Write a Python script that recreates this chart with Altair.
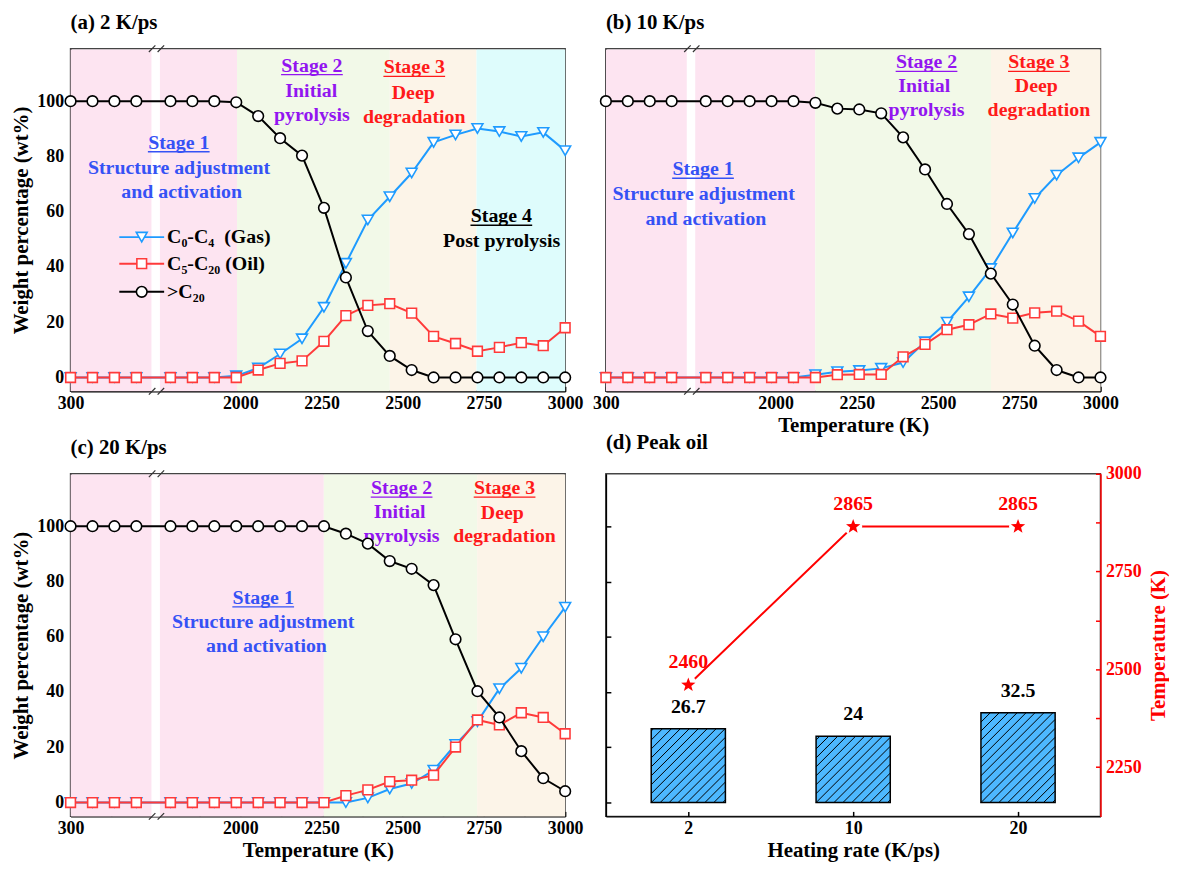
import math
import altair as alt
import pandas as pd

# ------------------------------------------------------------------ data
TEMPS = [300, 367.5, 435, 502.5,
         1785, 1852.5, 1920, 1987.5, 2055, 2122.5, 2190, 2257.5, 2325,
         2392.5, 2460, 2527.5, 2595, 2662.5, 2730, 2797.5, 2865, 2932.5, 3000]

A_GAS = [0, 0, 0, 0, 0, 0, 0, 0.6, 3.4, 8.5, 14.0, 25.4, 41.3, 57.0, 65.4, 74.0, 85.1, 87.8, 90.1, 89.0, 87.2, 88.7, 82.1]
A_OIL = [0, 0, 0, 0, 0, 0, 0, 0, 2.7, 5.1, 6.0, 13.1, 22.4, 26.1, 26.7, 23.3, 14.9, 12.3, 9.5, 10.9, 12.6, 11.5, 18.0]
A_C20 = [100, 100, 100, 100, 100, 100, 100, 99.6, 94.6, 86.6, 80.3, 61.4, 36.2, 16.8, 7.8, 2.7, 0, 0, 0, 0, 0, 0, 0]

B_GAS = [0, 0, 0, 0, 0, 0, 0, 0, 0, 1.0, 2.1, 2.5, 3.3, 5.4, 12.9, 20.0, 29.2, 39.4, 52.3, 64.8, 73.2, 79.5, 85.1]
B_OIL = [0, 0, 0, 0, 0, 0, 0, 0, 0, 0, 1.0, 1.1, 1.1, 7.5, 12.0, 17.3, 19.1, 23.0, 21.5, 23.4, 24.0, 20.4, 14.9]
B_C20 = [100, 100, 100, 100, 100, 100, 100, 100, 100, 99.4, 97.3, 97.0, 95.6, 86.9, 75.3, 62.8, 51.9, 37.6, 26.4, 11.5, 2.7, 0, 0]

C_GAS = [0, 0, 0, 0, 0, 0, 0, 0, 0, 0, 0, 0, 0, 1.7, 4.9, 6.9, 11.7, 21.0, 29.3, 41.2, 48.6, 60.0, 70.7]
C_OIL = [0, 0, 0, 0, 0, 0, 0, 0, 0, 0, 0, 0, 2.5, 4.6, 7.6, 8.1, 9.9, 20.1, 29.9, 28.1, 32.5, 30.8, 24.9]
C_C20 = [100, 100, 100, 100, 100, 100, 100, 100, 100, 100, 100, 100, 97.3, 93.7, 87.4, 84.6, 78.7, 59.1, 40.3, 30.8, 18.6, 8.8, 4.1]

RATES = ["2", "10", "20"]
PEAK_OIL = [26.7, 24, 32.5]
PEAK_T = [2460, 2865, 2865]

SERIES = ["gas", "oil", "c20"]
LEGEND_LABELS = ["C\u2080-C\u2084\u00a0\u00a0(Gas)", "C\u2085-C\u2082\u2080\u00a0(Oil)", ">C\u2082\u2080"]

X_TICKS_T = [300, 425, 1875, 2000, 2125, 2250, 2375, 2500, 2625, 2750, 2875, 3000]
Y_TICKS = [0, 10, 20, 30, 40, 50, 60, 70, 80, 90, 100, 110]
T_TICKS = [2250, 2375, 2500, 2625, 2750, 2875, 3000]

# stage boundaries (K) per panel
A_STAGES = [300, 1990, 2460, 2727, 3000]
B_STAGES = [300, 2122, 2663, 3000]
C_STAGES = [300, 2257, 2729, 3000]

# ------------------------------------------------------------------ style
FONT = "Liberation Serif"
W, H = 498, 345
Y_DOM = [-5, 119]
T_DOM = [2124, 3000]
SHIFT = 1177.5               # axis break: right segment shifted left
X_DOM = [300, 3000 - SHIFT]
GAP_U = [549, 575]

PINK, GREEN, BEIGE, CYAN = "#FDE4F1", "#F2F9E8", "#FCF4E8", "#DEFCFC"
BLUE, RED, BLACK = "#1E9BFF", "#FF3A3A", "#000000"
S1C, S2C, S3C = "#3552F5", "#9215F0", "#FF1A1A"
TRED = "#FF0000"
BAR_FILL = "#4DB8FF"

COL = {"gas": BLUE, "oil": RED, "c20": BLACK}
SHAPE = {"gas": "triangle-down", "oil": "square", "c20": "circle"}
SIZE = {"gas": 120, "oil": 95, "c20": 115}

NEG = {"expr": "-5"}


def to_u(t):
    return t if t < 1000 else t - SHIFT


xscale = alt.Scale(domain=X_DOM, nice=False, zero=False)
yscale = alt.Scale(domain=Y_DOM, nice=False, zero=False)

X_LABEL_EXPR = (
    "datum.value < 600 ? (datum.value == 300 ? '300' : '') : "
    f"((datum.value + {SHIFT}) % 250 == 0 ? format(datum.value + {SHIFT}, 'd') : '')"
)


def x_axis(title):
    if title:
        return alt.Axis(values=[to_u(t) for t in X_TICKS_T], labelExpr=X_LABEL_EXPR,
                        title=title, tickSize=NEG, labelPadding=8, titlePadding=2,
                        labelFlush=False, labelOverlap=False, grid=False)
    return alt.Axis(values=[to_u(t) for t in X_TICKS_T], labelExpr=X_LABEL_EXPR,
                    title=None, tickSize=NEG, labelPadding=8,
                    labelFlush=False, labelOverlap=False, grid=False)


def y_axis(show):
    if show:
        return alt.Axis(values=Y_TICKS, labelExpr="datum.value % 20 == 0 ? datum.label : ''",
                        title="Weight percentage (wt%)", tickSize=NEG, labelPadding=12,
                        titlePadding=5, labelFlush=False, grid=False)
    return alt.Axis(values=Y_TICKS, labels=False, title=None, tickSize=NEG, grid=False)


def X(field, axis=None):
    if axis is not None:
        return alt.X(field, type="quantitative", scale=xscale, axis=axis)
    return alt.X(field, type="quantitative", scale=xscale)


def Y(field, axis=None):
    if axis is not None:
        return alt.Y(field, type="quantitative", scale=yscale, axis=axis)
    return alt.Y(field, type="quantitative", scale=yscale)


def bg_layer(edges, colors, xtitle, ylabels):
    df = pd.DataFrame({
        "u0": [to_u(t) for t in edges[:-1]],
        "u1": [to_u(t) for t in edges[1:]],
        "c": colors,
        "lo": [Y_DOM[0]] * len(colors),
        "hi": [Y_DOM[1] - 0.3] * len(colors),
    })
    return alt.Chart(df).mark_rect().encode(
        x=X("u0", x_axis(xtitle)), x2="u1",
        y=Y("lo", y_axis(ylabels)), y2="hi",
        fill=alt.Fill("c:N", scale=None),
    )


def gap_layers():
    band = pd.DataFrame({"u0": [GAP_U[0]], "u1": [GAP_U[1]], "lo": [Y_DOM[0]], "hi": [Y_DOM[1] - 0.3]})
    gap = alt.Chart(band).mark_rect(fill="white").encode(x=X("u0"), x2="u1", y=Y("lo"), y2="hi")
    marks = []
    for yb in Y_DOM:
        for uc in (GAP_U[0] + 2, GAP_U[1] + 3):
            marks.append({"a": uc - 10, "b": uc + 10, "c": yb - 1.2, "d": yb + 1.2})
    brk = alt.Chart(pd.DataFrame(marks)).mark_rule(color="#333333", strokeWidth=1.2).encode(
        x=X("a"), x2="b", y=Y("c"), y2="d")
    return [gap, brk]


def series_layers(gas, oil, c20):
    layers = []
    for name, vals in zip(SERIES, (gas, oil, c20)):
        df = pd.DataFrame({"u": [to_u(t) for t in TEMPS], "v": vals})
        base = alt.Chart(df).encode(x=X("u"), y=Y("v"))
        layers.append(base.mark_line(color=COL[name], strokeWidth=2))
        layers.append(base.mark_point(shape=SHAPE[name], size=SIZE[name], filled=True,
                                      fill="white", stroke=COL[name], strokeWidth=1.6, opacity=1))
    return layers


def note_layers(notes):
    df = pd.DataFrame(notes, columns=["u", "y", "t", "c", "ul"])
    txt = alt.Chart(df).mark_text(font=FONT, fontWeight="bold", fontSize=20, baseline="middle").encode(
        x=X("u"), y=Y("y"), text="t:N", color=alt.Color("c:N", scale=None))
    ul = df[df.ul].copy()
    ul["a"] = ul["u"] - 95
    ul["b"] = ul["u"] + 95
    ul["yy"] = ul["y"] - 3.2
    line = alt.Chart(ul).mark_rule(strokeWidth=1.3).encode(
        x=X("a"), x2="b", y=Y("yy"), color=alt.Color("c:N", scale=None))
    return [txt, line]


def legend_layers():
    rows_y = [50.8, 41.2, 31.0]
    df = pd.DataFrame({"s": SERIES, "lab": LEGEND_LABELS, "y": rows_y,
                       "a": [450] * 3, "b": [588] * 3, "m": [519] * 3, "tx": [597] * 3})
    out = []
    for name in SERIES:
        sub = df[df.s == name]
        out.append(alt.Chart(sub).mark_rule(color=COL[name], strokeWidth=2).encode(
            x=X("a"), x2="b", y=Y("y")))
        out.append(alt.Chart(sub).mark_point(shape=SHAPE[name], size=SIZE[name], filled=True,
                                             fill="white", stroke=COL[name], strokeWidth=1.6,
                                             opacity=1).encode(x=X("m"), y=Y("y")))
    out.append(alt.Chart(df).mark_text(font=FONT, fontWeight="bold", fontSize=20, align="left",
                                       baseline="middle", color="black").encode(
        x=X("tx"), y=Y("y"), text="lab:N"))
    return out


A_NOTES = [
    (633, 84.9, "Stage 1", S1C, True),
    (634, 75.7, "Structure adjustment", S1C, False),
    (642, 67.0, "and activation", S1C, False),
    (1043, 112.8, "Stage 2", S2C, True),
    (1041, 103.8, "Initial", S2C, False),
    (1043, 95.1, "pyrolysis", S2C, False),
    (1358, 112.2, "Stage 3", S3C, True),
    (1355, 102.9, "Deep", S3C, False),
    (1358, 94.3, "degradation", S3C, False),
    (1626, 58.3, "Stage 4", BLACK, True),
    (1627, 49.5, "Post pyrolysis", BLACK, False),
]
B_NOTES = [
    (599, 75.3, "Stage 1", S1C, True),
    (601, 66.3, "Structure adjustment", S1C, False),
    (608, 57.5, "and activation", S1C, False),
    (1287, 114.0, "Stage 2", S2C, True),
    (1280, 105.4, "Initial", S2C, False),
    (1287, 96.7, "pyrolysis", S2C, False),
    (1633, 114.0, "Stage 3", S3C, True),
    (1625, 105.4, "Deep", S3C, False),
    (1633, 96.8, "degradation", S3C, False),
]
C_NOTES = [
    (893, 74.0, "Stage 1", S1C, True),
    (893, 65.3, "Structure adjustment", S1C, False),
    (903, 56.7, "and activation", S1C, False),
    (1319, 113.7, "Stage 2", S2C, True),
    (1313, 105.0, "Initial", S2C, False),
    (1319, 96.4, "pyrolysis", S2C, False),
    (1636, 113.7, "Stage 3", S3C, True),
    (1629, 104.8, "Deep", S3C, False),
    (1636, 96.3, "degradation", S3C, False),
]

title_params = dict(anchor="start", frame="group", font=FONT, fontSize=21,
                    fontWeight="bold", color="black", offset=12)

pa = alt.layer(
    bg_layer(A_STAGES, [PINK, GREEN, BEIGE, CYAN], None, True),
    *gap_layers(), *note_layers(A_NOTES), *legend_layers(),
    *series_layers(A_GAS, A_OIL, A_C20),
).properties(width=W, height=H, title=alt.TitleParams("(a) 2 K/ps", **title_params))

pb = alt.layer(
    bg_layer(B_STAGES, [PINK, GREEN, BEIGE], "Temperature (K)", False),
    *gap_layers(), *note_layers(B_NOTES),
    *series_layers(B_GAS, B_OIL, B_C20),
).properties(width=W, height=H, title=alt.TitleParams("(b) 10 K/ps", **title_params))

pc = alt.layer(
    bg_layer(C_STAGES, [PINK, GREEN, BEIGE], "Temperature (K)", True),
    *gap_layers(), *note_layers(C_NOTES),
    *series_layers(C_GAS, C_OIL, C_C20),
).properties(width=W, height=H, title=alt.TitleParams("(c) 20 K/ps", **title_params))

# ------------------------------------------------------------------ panel d
dscale_x = alt.Scale(domain=[0, len(RATES)], nice=False, zero=False)
tscale = alt.Scale(domain=T_DOM, nice=False, zero=False)
BAR_HALF = 0.225

centers = [i + 0.5 for i in range(len(RATES))]
ddf = pd.DataFrame({
    "rate": RATES, "c": centers,
    "x0": [c - BAR_HALF for c in centers], "x1": [c + BAR_HALF for c in centers],
    "oil": PEAK_OIL, "base": [0] * len(RATES), "T": PEAK_T,
    "oil_lab": [f"{v:g}" for v in PEAK_OIL], "T_lab": [str(t) for t in PEAK_T],
})

rate_expr = " : ".join(f"datum.value < {i + 1} ? '{r}'" for i, r in enumerate(RATES[:-1])) + f" : '{RATES[-1]}'"
dx_axis = alt.Axis(values=centers, labelExpr=rate_expr, title="Heating rate (K/ps)",
                   tickSize=NEG, labelPadding=8, titlePadding=2, grid=False)

# hatch lines inside bars (45 degrees in pixel space)
px_x = W / len(RATES)
px_y = H / (Y_DOM[1] - Y_DOM[0])
HATCH = 9.0
hrows = []
for x0, v in zip(ddf["x0"], PEAK_OIL):
    bw = 2 * BAR_HALF * px_x
    bh = v * px_y
    k = -int(bh // HATCH)
    while k * HATCH < bw:
        c = k * HATCH
        X0, X1 = max(0.0, c), min(bw, bh + c)
        if X1 - X0 > 1:
            hrows.append({"hx": x0 + X0 / px_x, "hx2": x0 + X1 / px_x,
                          "hy": (X0 - c) / px_y, "hy2": (X1 - c) / px_y})
        k += 1
hdf = pd.DataFrame(hrows)

bars = alt.Chart(ddf).mark_rect(fill=BAR_FILL, stroke="black", strokeWidth=1.5).encode(
    x=alt.X("x0:Q", scale=dscale_x, axis=dx_axis), x2="x1",
    y=alt.Y("base:Q", scale=yscale,
            axis=alt.Axis(values=Y_TICKS, labels=False, title=None, tickSize=NEG, grid=False)),
    y2="oil")
hatch = alt.Chart(hdf).mark_rule(color="black", strokeWidth=1).encode(
    x=alt.X("hx:Q", scale=dscale_x), x2="hx2",
    y=alt.Y("hy:Q", scale=yscale), y2="hy2")
bar_text = alt.Chart(ddf).mark_text(font=FONT, fontWeight="bold", fontSize=20, dy=-22,
                                    color="black").encode(
    x=alt.X("c:Q", scale=dscale_x), y=alt.Y("oil:Q", scale=yscale),
    text="oil_lab:N")
left = alt.layer(bars, hatch, bar_text)

star_pts = []
for k in range(10):
    ang = -math.pi / 2 + k * math.pi / 5
    r = 1.0 if k % 2 == 0 else 0.42
    star_pts.append(f"{r * math.cos(ang):.3f},{r * math.sin(ang):.3f}")
STAR = "M" + " L".join(star_pts) + " Z"

t_axis = alt.Axis(orient="right", values=T_TICKS,
                  labelExpr="datum.value % 250 == 0 ? format(datum.value, 'd') : ''",
                  title="Temperature (K)", titleAngle=270, titleBaseline="top",
                  labelColor=TRED, tickColor=TRED, domainColor=TRED, titleColor=TRED,
                  tickSize=NEG, labelPadding=10, titlePadding=6, grid=False, labelFlush=False)
tbase = alt.Chart(ddf).encode(x=alt.X("c:Q", scale=dscale_x))
tline = tbase.mark_line(color=TRED, strokeWidth=2).encode(
    y=alt.Y("T:Q", scale=tscale, axis=t_axis))
tgap = tbase.mark_point(shape="circle", size=330, filled=True, fill="white", opacity=1,
                        strokeWidth=0).encode(y=alt.Y("T:Q", scale=tscale))
tstar = tbase.mark_point(shape=STAR, size=230, filled=True, fill=TRED, opacity=1,
                         strokeWidth=0).encode(y=alt.Y("T:Q", scale=tscale))
ttext = tbase.mark_text(font=FONT, fontWeight="bold", fontSize=20, dy=-23, color=TRED).encode(
    y=alt.Y("T:Q", scale=tscale), text="T_lab:N")
right = alt.layer(tline, tgap, tstar, ttext)

pd_chart = alt.layer(left, right).resolve_scale(y="independent").properties(
    width=W, height=H, title=alt.TitleParams("(d) Peak oil", **title_params))

chart = alt.concat(pa, pb, pc, pd_chart, columns=2, spacing={"row": 83, "column": 41},
                   bounds="flush").properties(
    padding={"left": 2, "top": 0, "right": 0, "bottom": 0}
).configure_view(stroke="#444444", strokeWidth=1.5).configure_axis(
    labelFont=FONT, labelFontSize=18, labelFontWeight="bold", labelColor="black",
    titleFont=FONT, titleFontSize=21, titleFontWeight="bold", titleColor="black",
    domainColor="black", domainWidth=1.5, tickColor="black", tickWidth=1.5, zindex=1,
)

chart.save("out.html", embed_options={"renderer": "svg", "actions": False})
